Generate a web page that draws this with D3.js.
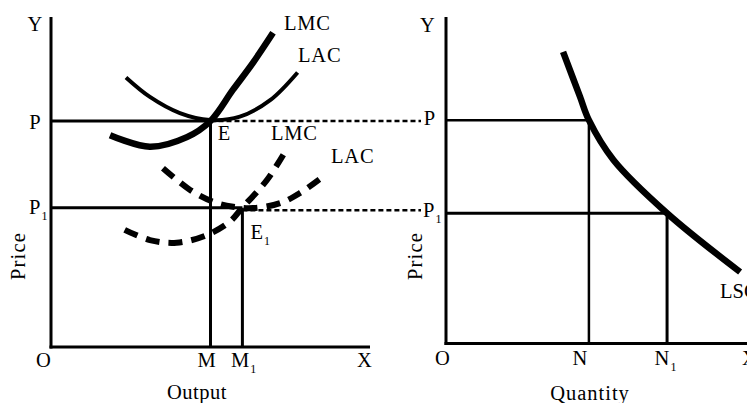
<!DOCTYPE html>
<html>
<head>
<meta charset="utf-8">
<script src="https://cdn.jsdelivr.net/npm/d3@7"></script>
<style>
  html, body { margin: 0; padding: 0; background: #fff; }
  svg { display: block; }
</style>
</head>
<body>
<svg id="chart" width="747" height="403"></svg>
<script>
// ---------- DATA (in abstract units 0..10) ----------
// Left panel: firm cost curves
const lmcSolid = [[1.85,6.42],[3.10,6.07],[4.26,6.36],[5.0,6.85],[5.70,7.79],[6.33,8.61],[6.96,9.52]];
const lacSolid = [[2.35,8.17],[3.10,7.58],[4.04,7.09],[4.98,6.88],[5.92,6.98],[6.87,7.48],[7.73,8.32]];
const lmcDashed = [[2.31,3.55],[3.10,3.24],[3.94,3.16],[4.88,3.39],[5.61,3.80],[5.98,4.20],[6.77,5.06],[7.37,5.97]];
const lacDashed = [[3.51,5.42],[4.36,4.76],[5.08,4.40],[5.71,4.25],[6.33,4.21],[7.18,4.36],[7.81,4.67],[8.59,5.21]];
const leftOutputs = { M: 5.0, M1: 6.0 };
const leftPrices  = { P: 6.85, P1: 4.22 };
// Right panel: long-run supply curve (decreasing cost industry)
const lsc = [[3.67,8.93],[4.20,7.56],[4.48,6.84],[5.25,5.62],[6.93,3.99],[9.22,2.19]];
const rightQuantities = { N: 4.48, N1: 6.93 };
const rightPrices = { P: 6.84, P1: 3.99 };
// Tick labels
const leftXTicks = [["O",0],["M",leftOutputs.M],["M",leftOutputs.M1,"1"],["X",10]];
const rightXTicks = [["O",0],["N",rightQuantities.N],["N",rightQuantities.N1,"1"],["X",10]];

// ---------- SCALES ----------
const xL = d3.scaleLinear().domain([0,10]).range([51,370]);
const yL = d3.scaleLinear().domain([0,10]).range([347,17]);
const xR = d3.scaleLinear().domain([0,10]).range([446,765]);
const yR = d3.scaleLinear().domain([0,10]).range([343.5,17]);

const svg = d3.select("#chart");
const FS = 20.5;
const SUB = 12;
const FONT = "'Times New Roman', 'Liberation Serif', Tinos, Times, serif";

function line(g, x1, y1, x2, y2, w, dash) {
  const l = g.append("line").attr("x1",x1).attr("y1",y1).attr("x2",x2).attr("y2",y2)
    .attr("stroke","#000").attr("stroke-width",w).attr("stroke-linecap","butt");
  if (dash) l.attr("stroke-dasharray", dash);
  return l;
}
function curve(g, data, xs, ys, w, dash) {
  const gen = d3.line().x(d => xs(d[0])).y(d => ys(d[1])).curve(d3.curveCatmullRom.alpha(0.5));
  const p = g.append("path").attr("d", gen(data)).attr("fill","none")
    .attr("stroke","#000").attr("stroke-width",w).attr("stroke-linecap","butt");
  if (dash) p.attr("stroke-dasharray", dash);
  return p;
}
function label(x, y, txt, sub, anchor, ls) {
  const t = svg.append("text").attr("x",x).attr("y",y).attr("font-size",FS)
    .attr("font-family", FONT).attr("fill","#000")
    .attr("text-anchor", anchor || "start");
  if (ls) t.attr("letter-spacing", ls);
  t.append("tspan").text(txt);
  if (sub) t.append("tspan").attr("font-size",SUB).attr("dx",1).attr("dy",6).text(sub);
  return t;
}

// ---------- LEFT PANEL ----------
const gL = svg.append("g");
line(gL, xL(0), yL(10), xL(0), yL(0)+1.5, 3);
line(gL, xL(0)-1.5, yL(0), xL(10), yL(0), 3);
line(gL, xL(0), yL(leftPrices.P), xL(leftOutputs.M), yL(leftPrices.P), 3);
line(gL, xL(leftOutputs.M), yL(0), xL(leftOutputs.M), yL(leftPrices.P), 3);
line(gL, xL(0), yL(leftPrices.P1), xL(leftOutputs.M1), yL(leftPrices.P1), 3);
line(gL, xL(leftOutputs.M1), yL(0), xL(leftOutputs.M1), yL(leftPrices.P1), 3);
line(svg, xL(leftOutputs.M), yL(leftPrices.P), xR(0)-25, yL(leftPrices.P), 2.5, "5,3");
line(svg, xL(leftOutputs.M1), yL(leftPrices.P1)+2.5, xR(0)-25, yL(leftPrices.P1)+2.5, 2.5, "5,3");
curve(gL, lacSolid, xL, yL, 4);
curve(gL, lmcSolid, xL, yL, 6.5);
curve(gL, lmcDashed, xL, yL, 6, "14,9");
curve(gL, lacDashed, xL, yL, 6, "14,9");

label(35, 31, "Y", null, "middle");
label(35, 129, "P", null, "middle");
label(29, 213.5, "P", "1");
label(224, 139.5, "E", null, "middle");
label(250.5, 238.5, "E", "1");
label(284, 30, "LMC", null, "start", 0.8);
label(298, 61.5, "LAC", null, "start", 0.8);
label(271, 140, "LMC", null, "start", 0.8);
label(331, 163, "LAC", null, "start", 0.8);
svg.append("g").selectAll("text").data(leftXTicks).join("text")
  .attr("font-size", FS).attr("font-family", FONT).attr("fill","#000")
  .attr("x", (d,i) => i === 0 ? xL(d[1]) - 15 : (d[2] ? xL(d[1]) - 11.5 : xL(d[1]) - 13))
  .attr("y", 366.5)
  .each(function(d) {
    const t = d3.select(this);
    t.append("tspan").text(d[0]);
    if (d[2]) t.append("tspan").attr("font-size",SUB).attr("dx",1).attr("dy",6).text(d[2]);
  });
label(197, 398.5, "Output", null, "middle", 0.5);
svg.append("text").attr("font-size",FS).attr("font-family", FONT).attr("fill","#000").attr("letter-spacing",1.2)
  .attr("transform","translate(24.5,256) rotate(-90)").attr("text-anchor","middle").text("Price");

// ---------- RIGHT PANEL ----------
const gR = svg.append("g");
line(gR, xR(0), yR(10), xR(0), yR(0)+1.5, 3);
line(gR, xR(0)-1.5, yR(0), 747, yR(0), 3);
line(gR, xR(0), yR(rightPrices.P), xR(rightQuantities.N), yR(rightPrices.P), 2.5);
line(gR, xR(rightQuantities.N), yR(0), xR(rightQuantities.N), yR(rightPrices.P), 2.5);
line(gR, xR(0), yR(rightPrices.P1), xR(rightQuantities.N1), yR(rightPrices.P1), 3);
line(gR, xR(rightQuantities.N1), yR(0), xR(rightQuantities.N1), yR(rightPrices.P1), 3);
curve(gR, lsc, xR, yR, 6.5);

label(427.5, 31.5, "Y", null, "middle");
label(429.5, 125, "P", null, "middle");
label(423, 216.5, "P", "1");
label(720, 297.5, "LSC", null, "start");
svg.append("g").selectAll("text").data(rightXTicks).join("text")
  .attr("font-size", FS).attr("font-family", FONT).attr("fill","#000")
  .attr("x", (d,i) => i === 0 ? xR(d[1]) - 11 : (i === 3 ? 742 : (d[2] ? xR(d[1]) - 12.5 : xR(d[1]) - 16.5)))
  .attr("y", 365)
  .each(function(d) {
    const t = d3.select(this);
    t.append("tspan").text(d[0]);
    if (d[2]) t.append("tspan").attr("font-size",SUB).attr("dx",1).attr("dy",6).text(d[2]);
  });
label(590, 400, "Quantity", null, "middle", 1);
svg.append("text").attr("font-size",FS).attr("font-family", FONT).attr("fill","#000").attr("letter-spacing",1.2)
  .attr("transform","translate(421.5,256) rotate(-90)").attr("text-anchor","middle").text("Price");
</script>
</body>
</html>
